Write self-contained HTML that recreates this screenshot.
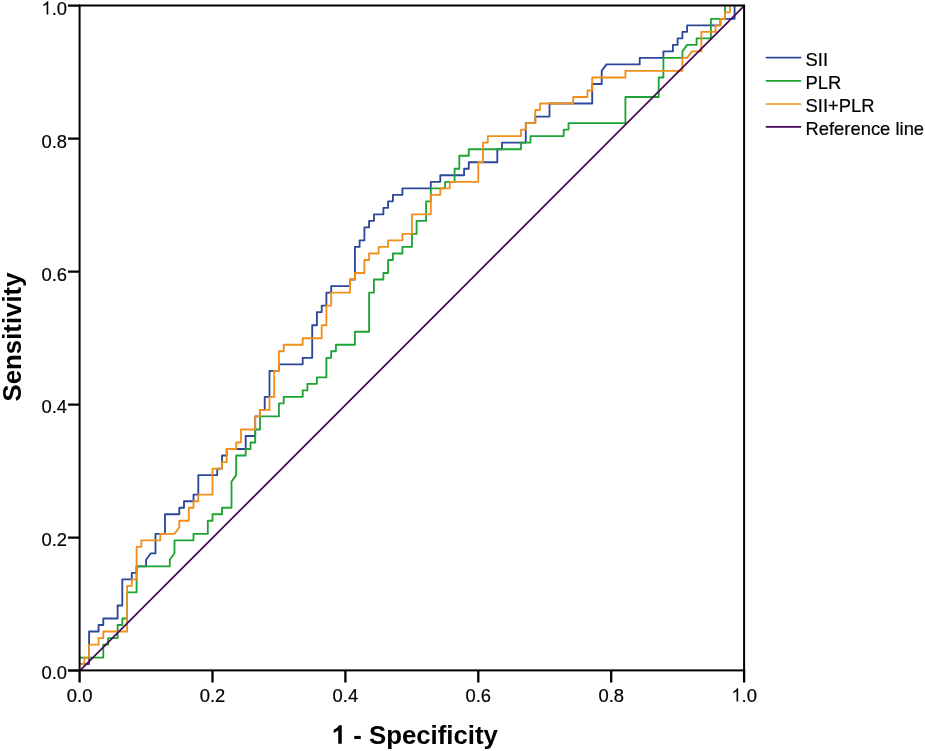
<!DOCTYPE html>
<html><head><meta charset="utf-8">
<style>
html,body{margin:0;padding:0;background:#fff;}
body{width:925px;height:751px;overflow:hidden;position:relative;font-family:"Liberation Sans",sans-serif;}
svg{position:absolute;left:0;top:0;}
text{font-family:"Liberation Sans",sans-serif;fill:#000;filter:grayscale(1);}
.t{font-size:18.4px;stroke:#000;stroke-width:.2px;}
.l{font-size:18.4px;stroke:#000;stroke-width:.2px;}
.b{font-size:25.8px;font-weight:bold;}
</style></head><body>
<svg width="925" height="751" viewBox="0 0 925 751">
<rect x="0" y="0" width="925" height="751" fill="#fff"/>
<!-- curves -->
<clipPath id="cp"><rect x="79.6" y="4.5" width="666" height="667"/></clipPath>
<g fill="none" stroke-width="1.85" stroke-linejoin="round" clip-path="url(#cp)">
<path id="sii" stroke="#2c479a" d="M79.6 664.1L89.1 664.1L89.1 631.5L98.6 631.5L98.6 625.0L103.3 625.0L103.3 618.5L117.6 618.5L117.6 605.5L122.3 605.5L122.3 579.4L131.8 579.4L131.8 572.9L136.6 572.9L136.6 566.4L146.1 566.4L146.1 559.8L150.8 553.3L155.5 553.3L155.5 533.8L165.0 533.8L165.0 514.2L179.3 514.2L179.3 507.7L184.0 507.7L184.0 501.2L193.5 501.2L193.5 494.6L198.3 494.6L198.3 475.1L217.2 475.1L217.2 468.6L222.0 468.6L222.0 455.5L226.7 455.5L226.7 449.0L245.7 449.0L245.7 436.0L255.2 436.0L255.2 416.4L260.0 416.4L260.0 409.9L264.7 409.9L264.7 396.9L269.5 396.9L269.5 370.8L274.2 370.8L278.9 370.8L278.9 364.3L302.7 364.3L302.7 357.8L312.2 357.8L312.2 325.2L316.9 325.2L316.9 312.1L321.7 312.1L321.7 305.6L326.4 305.6L326.4 292.6L331.2 292.6L331.2 286.1L350.1 286.1L350.1 279.5L354.9 279.5L354.9 246.9L359.6 246.9L359.6 240.4L364.4 240.4L364.4 227.4L369.1 227.4L369.1 220.9L373.9 220.9L373.9 214.3L383.4 214.3L383.4 207.8L388.1 207.8L388.1 201.3L392.9 201.3L392.9 194.8L402.4 194.8L402.4 188.3L430.8 188.3L430.8 181.8L440.3 181.8L440.3 175.2L464.1 175.2L464.1 168.7L468.8 168.7L468.8 162.2L497.3 162.2L497.3 149.2L502.0 149.2L502.0 142.6L525.8 142.6L525.8 123.1L535.3 123.1L535.3 116.6L549.5 116.6L549.5 103.5L592.2 103.5L592.2 84.0L601.7 84.0L601.7 70.9L606.5 64.4L639.7 64.4L639.7 57.9L663.4 57.9L663.4 51.4L672.9 51.4L672.9 44.9L677.6 44.9L677.6 38.3L682.4 38.3L682.4 31.8L687.1 31.8L687.1 25.3L720.4 25.3L720.4 18.8L734.6 18.8L734.6 5.8"/>
<path id="plr" stroke="#1ea434" d="M79.6 657.6L103.3 657.6L103.3 644.6L108.1 644.6L108.1 638.1L117.6 638.1L117.6 625.0L122.3 625.0L122.3 618.5L127.1 618.5L127.1 592.4L136.6 592.4L136.6 566.4L169.8 566.4L169.8 559.8L174.5 553.3L174.5 540.3L193.5 540.3L193.5 533.8L207.8 533.8L207.8 520.7L212.5 520.7L212.5 514.2L222.0 514.2L222.0 507.7L231.5 507.7L231.5 481.6L236.2 475.1L236.2 455.5L245.7 455.5L245.7 449.0L250.5 449.0L250.5 442.5L255.2 442.5L255.2 429.5L260.0 429.5L260.0 416.4L278.9 416.4L278.9 403.4L283.7 403.4L283.7 396.9L302.7 396.9L302.7 390.3L307.4 390.3L307.4 383.8L316.9 383.8L316.9 377.3L326.4 377.3L326.4 357.8L331.2 357.8L331.2 351.2L335.9 351.2L335.9 344.7L354.9 344.7L354.9 331.7L369.1 331.7L369.1 292.6L373.9 292.6L373.9 279.5L383.4 279.5L383.4 273.0L388.1 273.0L388.1 260.0L392.9 260.0L392.9 253.5L402.4 253.5L402.4 246.9L411.9 246.9L411.9 233.9L416.6 233.9L416.6 220.9L426.1 220.9L426.1 201.3L430.8 201.3L430.8 188.3L445.1 188.3L445.1 181.8L454.6 181.8L454.6 168.7L459.3 168.7L459.3 155.7L468.8 155.7L468.8 149.2L521.0 149.2L521.0 142.6L530.5 142.6L530.5 136.1L563.7 136.1L563.7 129.6L568.5 129.6L568.5 123.1L625.4 123.1L625.4 97.0L658.7 97.0L658.7 77.5L663.4 77.5L663.4 57.9L682.4 57.9L682.4 51.4L687.1 44.9L696.6 44.9L696.6 38.3L710.9 38.3L710.9 18.8L725.1 18.8L725.1 5.8"/>
<path id="comb" stroke="#f18f1a" d="M79.6 664.1L84.3 664.1L84.3 657.6L89.1 657.6L89.1 644.6L98.6 644.6L98.6 638.1L103.3 638.1L103.3 631.5L127.1 631.5L127.1 585.9L131.8 585.9L131.8 579.4L136.6 579.4L136.6 546.8L141.3 546.8L141.3 540.3L160.3 540.3L160.3 533.8L174.5 533.8L179.3 527.2L179.3 520.7L188.8 520.7L188.8 507.7L193.5 507.7L193.5 501.2L198.3 501.2L198.3 494.6L212.5 494.6L212.5 468.6L222.0 468.6L222.0 462.1L226.7 462.1L226.7 449.0L236.2 449.0L236.2 442.5L241.0 442.5L241.0 429.5L255.2 429.5L255.2 416.4L260.0 416.4L260.0 409.9L269.5 409.9L269.5 396.9L274.2 396.9L274.2 370.8L278.9 370.8L278.9 351.2L283.7 351.2L283.7 344.7L302.7 344.7L302.7 338.2L321.7 338.2L321.7 325.2L326.4 325.2L326.4 305.6L331.2 305.6L331.2 292.6L350.1 292.6L350.1 279.5L354.9 279.5L354.9 273.0L364.4 273.0L364.4 260.0L369.1 260.0L369.1 253.5L378.6 253.5L378.6 246.9L388.1 246.9L388.1 240.4L402.4 240.4L402.4 233.9L411.9 233.9L411.9 214.3L430.8 214.3L430.8 194.8L440.3 194.8L440.3 188.3L449.8 188.3L449.8 181.8L478.3 181.8L478.3 162.2L483.0 162.2L483.0 142.6L487.8 142.6L487.8 136.1L521.0 136.1L521.0 129.6L525.8 129.6L525.8 123.1L535.3 123.1L535.3 110.0L540.0 110.0L540.0 103.5L573.2 103.5L573.2 97.0L587.5 97.0L587.5 90.5L592.2 90.5L592.2 77.5L625.4 77.5L625.4 70.9L682.4 70.9L682.4 57.9L687.1 57.9L691.9 51.4L701.4 51.4L701.4 31.8L715.6 31.8L715.6 25.3L720.4 25.3L720.4 18.8L725.1 18.8L725.1 12.3L729.9 12.3L729.9 5.8"/>
<path id="ref" stroke="#4b0859" stroke-width="1.75" d="M79.9 670.6L744.4 5.7"/>
</g>
<!-- frame -->
<g stroke="#000" fill="none">
<rect x="79.6" y="5.5" width="664.5" height="664.9" stroke-width="2"/>
<g stroke-width="2.3">
<path d="M68 5.6H80M68 138.7H80M68 271.7H80M68 404.6H80M68 537.6H80M68 670.5H80"/>
<path d="M79.6 670V682.4M212.5 670V682.4M345.4 670V682.4M478.3 670V682.4M611.2 670V682.4M744.1 670V682.4"/>
</g>
</g>
<!-- y tick labels -->
<g class="t" text-anchor="end">
<path stroke="none" fill="#000" transform="translate(41.42,14.5) scale(0.008984,-0.008984)" d="M763 0H583V1147Q518 1085 412.5 1023Q307 961 223 930V1104Q374 1175 487 1276Q600 1377 647 1472H763Z"/>
<text x="67" y="14.5">.0</text>
<text x="67" y="147.5">0.8</text>
<text x="67" y="280.5">0.6</text>
<text x="67" y="413.4">0.4</text>
<text x="67" y="546.4">0.2</text>
<text x="67" y="679.4">0.0</text>
</g>
<g class="t" text-anchor="middle">
<text x="79.6" y="701.5">0.0</text>
<text x="212.5" y="701.5">0.2</text>
<text x="345.4" y="701.5">0.4</text>
<text x="478.3" y="701.5">0.6</text>
<text x="611.2" y="701.5">0.8</text>
<path stroke="none" fill="#000" transform="translate(731.31,701.5) scale(0.008984,-0.008984)" d="M763 0H583V1147Q518 1085 412.5 1023Q307 961 223 930V1104Q374 1175 487 1276Q600 1377 647 1472H763Z"/>
<text x="741.54" y="701.5" text-anchor="start">.0</text>
</g>
<path stroke="none" fill="#000" transform="translate(331.63,743.7) scale(0.012598,-0.012598)" d="M806 0H525V1059Q371 915 162 846V1101Q272 1137 401 1237.5Q530 1338 578 1472H806Z"/>
<text class="b" x="497.97" y="743.7" text-anchor="end">- Specificity</text>
<text class="b" transform="translate(20.7,337) rotate(-90)" text-anchor="middle">Sensitivity</text>
<!-- legend -->
<g stroke-width="1.7" fill="none" stroke-linecap="round">
<path stroke="#2c479a" d="M766.4 57.6H800.6"/>
<path stroke="#1ea434" d="M766.4 80.8H800.6"/>
<path stroke="#f18f1a" d="M766.4 104H800.6"/>
<path stroke="#4b0859" d="M766.4 126.8H800.6"/>
</g>
<g class="l">
<text x="805.5" y="66.1">SII</text>
<text x="805.5" y="89.2">PLR</text>
<text x="805.5" y="112.3">SII+PLR</text>
<text x="805.5" y="135.4">Reference line</text>
</g>
</svg>
</body></html>
